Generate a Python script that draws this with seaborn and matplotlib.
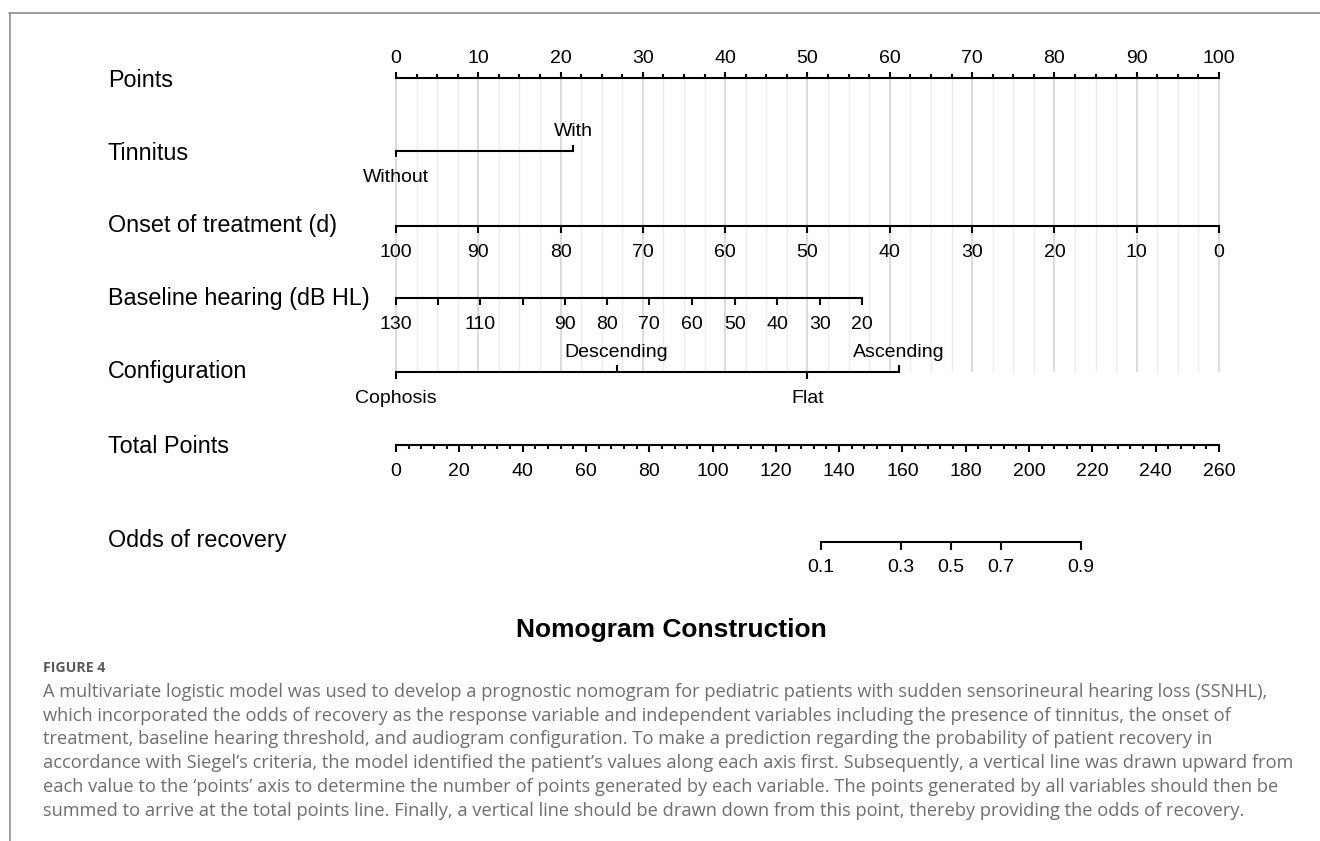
import numpy as np
import matplotlib
matplotlib.use("Agg")
import matplotlib.pyplot as plt
from matplotlib.lines import Line2D
import seaborn as sns

# ---------------- data ----------------
points_ticks = [0, 10, 20, 30, 40, 50, 60, 70, 80, 90, 100]
tinnitus_levels = ["Without", "With"]
tinnitus_points = [0.0, 21.5]
tinnitus_label_side = ["below", "above"]
onset_days = [100, 90, 80, 70, 60, 50, 40, 30, 20, 10, 0]
onset_points = [0, 10, 20, 30, 40, 50, 60, 70, 80, 90, 100]
baseline_db = [130, 120, 110, 100, 90, 80, 70, 60, 50, 40, 30, 20]
baseline_labels = ["130", "", "110", "", "90", "80", "70", "60", "50", "40", "30", "20"]
baseline_points = [0.0, 5.1, 10.2, 15.4, 20.5, 25.6, 30.7, 36.0, 41.2, 46.3, 51.5, 56.6]
config_levels = ["Cophosis", "Descending", "Flat", "Ascending"]
config_points = [0.0, 26.8, 50.0, 61.1]
config_label_side = ["below", "above", "below", "above"]
total_ticks = [0, 20, 40, 60, 80, 100, 120, 140, 160, 180, 200, 220, 240, 260]
odds_probs = [0.1, 0.3, 0.5, 0.7, 0.9]
odds_total_points = [134.3, 159.5, 175.3, 191.1, 216.4]
row_names = ["Points", "Tinnitus", "Onset of treatment (d)", "Baseline hearing (dB HL)",
             "Configuration", "Total Points", "Odds of recovery"]
title_text = "Nomogram Construction"
caption_head = "FIGURE 4"
caption_lines = [
    "A multivariate logistic model was used to develop a prognostic nomogram for pediatric patients with sudden sensorineural hearing loss (SSNHL),",
    "which incorporated the odds of recovery as the response variable and independent variables including the presence of tinnitus, the onset of",
    "treatment, baseline hearing threshold, and audiogram configuration. To make a prediction regarding the probability of patient recovery in",
    "accordance with Siegel\u2019s criteria, the model identified the patient\u2019s values along each axis first. Subsequently, a vertical line was drawn upward from",
    "each value to the \u2018points\u2019 axis to determine the number of points generated by each variable. The points generated by all variables should then be",
    "summed to arrive at the total points line. Finally, a vertical line should be drawn down from this point, thereby providing the odds of recovery.",
]

# ---------------- layout ----------------
W, H = 1320, 841
X0_PX, X100_PX = 396, 1219
PPX = (X100_PX - X0_PX) / 100.0
row_y = [78, 151, 226, 298, 372, 445, 541.5]
name_baseline = [87, 160, 232, 305, 378, 453, 547]
NAME_X_PX = 108
MAJ, MINOR = 7, 4
ABOVE_OFF, BELOW_OFF = -15, 31
LW = 1.5
TICK_FS = 14
NAME_FS = 16.8
FONT = ["Liberation Sans", "DejaVu Sans"]

sns.set_theme(style="white")
plt.rcParams["font.family"] = FONT

fig = plt.figure(figsize=(W / 100, H / 100), dpi=100)
ax = fig.add_axes([0, 0, 1, 1])
ax.set_xlim((0 - X0_PX) / PPX, (W - X0_PX) / PPX)
ax.set_ylim(H, 0)
ax.axis("off")

total_max = total_ticks[-1]
def tot2pts(t):
    return np.asarray(t, dtype=float) * 100.0 / total_max

# grid lines (points scale, every 2.5, darker each 10)
grid_minor = np.arange(0, 100.01, 2.5)
ax.vlines([g for g in grid_minor if g % 10 != 0], row_y[0], row_y[4],
          color="#ececec", lw=1.0, zorder=0)
ax.vlines(points_ticks, row_y[0], row_y[4], color="#d4d4d4", lw=1.2, zorder=0)


def base_line(y, xs):
    sns.lineplot(x=[min(xs), max(xs)], y=[y, y], color="black", lw=LW, ax=ax,
                 legend=False, solid_capstyle="projecting", zorder=3)


def ticks(y, xs, side, length):
    xs = np.atleast_1d(xs)
    if side == "above":
        ax.vlines(xs, y - length, y, color="black", lw=LW, zorder=3)
    else:
        ax.vlines(xs, y, y + length, color="black", lw=LW, zorder=3)


def label(y, x, text, side):
    if side == "above":
        ax.text(x, y + ABOVE_OFF, text, ha="center", va="baseline", fontsize=TICK_FS, color="black")
    else:
        ax.text(x, y + BELOW_OFF, text, ha="center", va="baseline", fontsize=TICK_FS, color="black")


# Points
y = row_y[0]
base_line(y, points_ticks)
ticks(y, points_ticks, "above", MAJ - 1)
ticks(y, [g for g in grid_minor if g % 10 != 0], "above", MINOR)
for p in points_ticks:
    label(y, p, str(p), "above")

# Tinnitus
y = row_y[1]
base_line(y, tinnitus_points)
for p, lev, side in zip(tinnitus_points, tinnitus_levels, tinnitus_label_side):
    ticks(y, p, side, MAJ - 1)
    label(y, p, lev, side)

# Onset of treatment
y = row_y[2]
base_line(y, onset_points)
ticks(y, onset_points, "below", MAJ)
for p, d in zip(onset_points, onset_days):
    label(y, p, str(d), "below")

# Baseline hearing
y = row_y[3]
base_line(y, baseline_points)
ticks(y, baseline_points, "below", MAJ)
for p, lab in zip(baseline_points, baseline_labels):
    if lab:
        label(y, p, lab, "below")

# Configuration
y = row_y[4]
base_line(y, config_points)
for p, lev, side in zip(config_points, config_levels, config_label_side):
    ticks(y, p, side, MAJ)
    label(y, p, lev, side)

# Total points
y = row_y[5]
tp = tot2pts(total_ticks)
base_line(y, tp)
ticks(y, tp, "below", MAJ)
minor_total = [t for t in np.arange(0, total_max + 0.1, 4) if t % 20 != 0]
ticks(y, tot2pts(minor_total), "below", MINOR)
for p, t in zip(tp, total_ticks):
    label(y, p, str(t), "below")

# Odds of recovery
y = row_y[6]
op = tot2pts(odds_total_points)
base_line(y, op)
ticks(y, op, "below", MAJ + 1)
for p, pr in zip(op, odds_probs):
    label(y, p, f"{pr:.1f}", "below")

# Row names
name_x = (NAME_X_PX - X0_PX) / PPX
for nm, yb in zip(row_names, name_baseline):
    ax.text(name_x, yb, nm, ha="left", va="baseline", fontsize=NAME_FS, color="black")

# Title
fig.text(671 / W, 1 - 637 / H, title_text, ha="center", va="baseline",
         fontsize=19, fontweight="bold", color="black")

# Border lines
fig.add_artist(Line2D([9 / W, 1.0], [1 - 12.5 / H, 1 - 12.5 / H], transform=fig.transFigure,
                      color="#8c8c8c", lw=1.2))
fig.add_artist(Line2D([9.5 / W, 9.5 / W], [0.0, 1 - 12.5 / H], transform=fig.transFigure,
                      color="#8c8c8c", lw=1.2))

# Caption
CAP_FONT = ["Open Sans", "DejaVu Sans"]
head = fig.text(43 / W, 1 - 672.5 / H, caption_head, ha="left", va="baseline",
                fontsize=9.5, fontweight="bold", color="#5a5a5a", family=CAP_FONT)
cap_baselines = [697, 721, 744.5, 768.5, 792.5, 816.5]
cap_texts = []
for line, yb in zip(caption_lines, cap_baselines):
    cap_texts.append(fig.text(43 / W, 1 - yb / H, line, ha="left", va="baseline",
                              fontsize=12, color="#6e6e6e", family=CAP_FONT))

fig.canvas.draw()
rend = fig.canvas.get_renderer()
w1 = cap_texts[0].get_window_extent(rend).width
fs = 12 * (1263 - 43) / w1
for t in cap_texts:
    t.set_fontsize(fs)
wh = head.get_window_extent(rend).width
head.set_fontsize(9.5 * 63 / wh)

fig.savefig("out.png", dpi=100)
